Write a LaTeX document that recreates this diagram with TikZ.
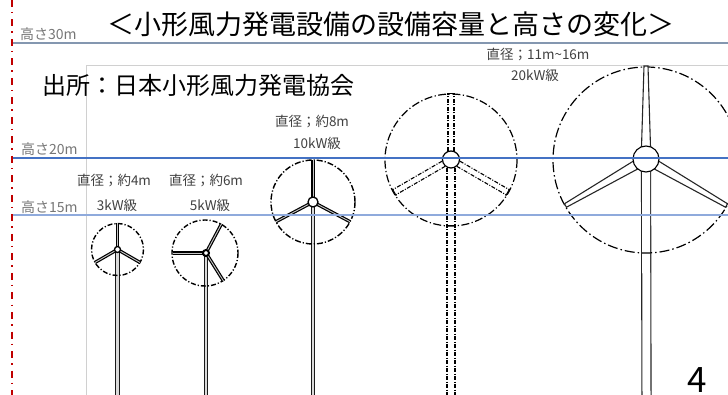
\documentclass[tikz,border=0pt]{standalone}
\usepackage{fontspec}
\setmainfont{Noto Sans CJK JP}
\definecolor{redline}{HTML}{C00000}
\definecolor{line30}{HTML}{8497B0}
\definecolor{line20}{HTML}{4472C4}
\definecolor{line15}{HTML}{8FAADC}
\definecolor{lvltext}{HTML}{767676}
\definecolor{captext}{HTML}{404040}
\definecolor{framegray}{HTML}{D0D0D0}
\begin{document}
\begin{tikzpicture}[x=1pt,y=-1pt,
  lvl/.style={font=\fontsize{14}{14}\selectfont, text=lvltext, inner sep=0pt, anchor=west},
  captxt/.style={font=\fontsize{13.5}{13.5}\selectfont, text=captext, inner sep=0pt},
  rimS/.style={draw=black, line width=1.4pt, dash pattern=on 5pt off 2pt on 1.2pt off 2pt},
  rimM/.style={draw=black, line width=1.4pt, dash pattern=on 6pt off 2pt on 1.2pt off 2pt},
  rimL/.style={draw=black, line width=1.2pt, dash pattern=on 8pt off 2.5pt on 1.2pt off 2.5pt},
  rimXL/.style={draw=black, line width=1.2pt, dash pattern=on 10pt off 3pt on 1.5pt off 3pt},
  bladeS/.style={draw=black, line width=1.2pt, double=gray!45, double distance=0.9pt},
  towerS/.style={draw=black!90, line width=1.2pt, double=gray!30, double distance=2.4pt},
  ddline/.style={draw=black, line width=1.1pt, dash pattern=on 4pt off 1.5pt on 1pt off 1.5pt},
  levelline/.style={line width=1.6pt}]
\useasboundingbox (0,0) rectangle (728,395);
\clip (0,0) rectangle (728,395);

% frame of the drawing area
\draw[framegray, line width=0.9pt] (86,395) -- (86,65) -- (728,65);

% ---- 3kW turbine ----
\coordinate (h1) at (117.5,249.5);
\draw[towerS] (h1) -- (117.5,395);
\draw[rimS] (h1) circle (26);
\foreach \a in {-90,150,30} \draw[bladeS] (h1) -- ++(\a:26);
\draw[line width=1.3pt, fill=white] (h1) circle (3);

% ---- 5kW turbine ----
\coordinate (h2) at (206,253);
\draw[towerS] (h2) -- (206,395);
\draw[rimS] (205,253) circle (33);
\foreach \a in {180,-62,58} \draw[bladeS] (h2) -- ++(\a:33);
\draw[line width=2pt, fill=white] (h2) circle (3);

% ---- 10kW turbine ----
\coordinate (h3) at (313,202);
\draw[towerS] (h3) -- (313,395);
\draw[rimM] (313,202) circle (42);
\foreach \a in {-90,152,28} \draw[bladeS] (h3) -- ++(\a:42);
\draw[line width=1.3pt, fill=white] (h3) circle (5);

% ---- dash-dot outline turbine ----
\coordinate (h4) at (451,159.5);
\draw[rimL] (451,160) circle (66);
\foreach \a in {90,210,330}{
  \begin{scope}[shift={(h4)}, rotate=\a]
    \draw[ddline] (8.5,-3) -- (66,-3);
    \draw[ddline] (8.5,3) -- (66,3);
    \draw[black, line width=1pt] (65.5,-4) -- (65.5,4);
  \end{scope}
}
\draw[ddline] (447,168) -- (447,395);
\draw[ddline] (455,168) -- (455,395);
\draw[black, line width=1pt] (446,226) -- (456,226);
\draw[line width=1.2pt, fill=white] (h4) circle (8.5);

% ---- 20kW turbine ----
\coordinate (h5) at (646,159);
\draw[draw=black!85, line width=1.1pt, double=white, double distance=8pt] (h5) -- (646.5,395);
\draw[rimXL] (646,160) circle (93);
\foreach \a in {90,210,330}{
  \begin{scope}[shift={(h5)}, rotate=\a]
    \draw[black!85, line width=1.1pt, fill=white] (12,-4.5) -- (93,-2) -- (93,2) -- (12,4.5) -- cycle;
  \end{scope}
}
\draw[line width=1.1pt, fill=white] (h5) circle (13);

% ---- height levels ----
\draw[line30, levelline, line width=2pt] (12,43.3) -- (728,43.3);
\draw[line20, levelline] (12,158.3) -- (728,158.3);
\draw[line15, levelline] (12,214.8) -- (728,214.8);
\draw[redline, line width=1.6pt, dash pattern=on 7pt off 5pt on 1.5pt off 6pt] (11.7,0) -- (11.7,395);

\node[lvl] (l30) at (20,34.5) {高さ30m};
\node[lvl] (l20) at (21,149) {高さ20m};
\node[lvl] (l15) at (21,207) {高さ15m};

% ---- titles ----
\node[inner sep=0pt, font=\fontsize{27}{27}\selectfont] (title) at (391,24) {＜小形風力発電設備の設備容量と高さの変化＞};
\node[inner sep=0pt, font=\fontsize{24}{24}\selectfont] (source) at (198,85) {出所：日本小形風力発電協会};

% ---- captions ----
\node[captxt] (d1) at (114,181) {直径；約4m};
\node[captxt] (k1) at (117,205) {3kW級};
\node[captxt] (d2) at (206,181) {直径；約6m};
\node[captxt] (k2) at (210,205) {5kW級};
\node[captxt] (d3) at (312,122) {直径；約8m};
\node[captxt] (k3) at (317,143) {10kW級};
\node[captxt] (d5) at (538,55) {直径；11m\textasciitilde16m};
\node[captxt] (k5) at (535,75) {20kW級};

\node[inner sep=0pt, anchor=base, font=\fontsize{35}{35}\selectfont] (page) at (697,392) {4};
\end{tikzpicture}
\end{document}
